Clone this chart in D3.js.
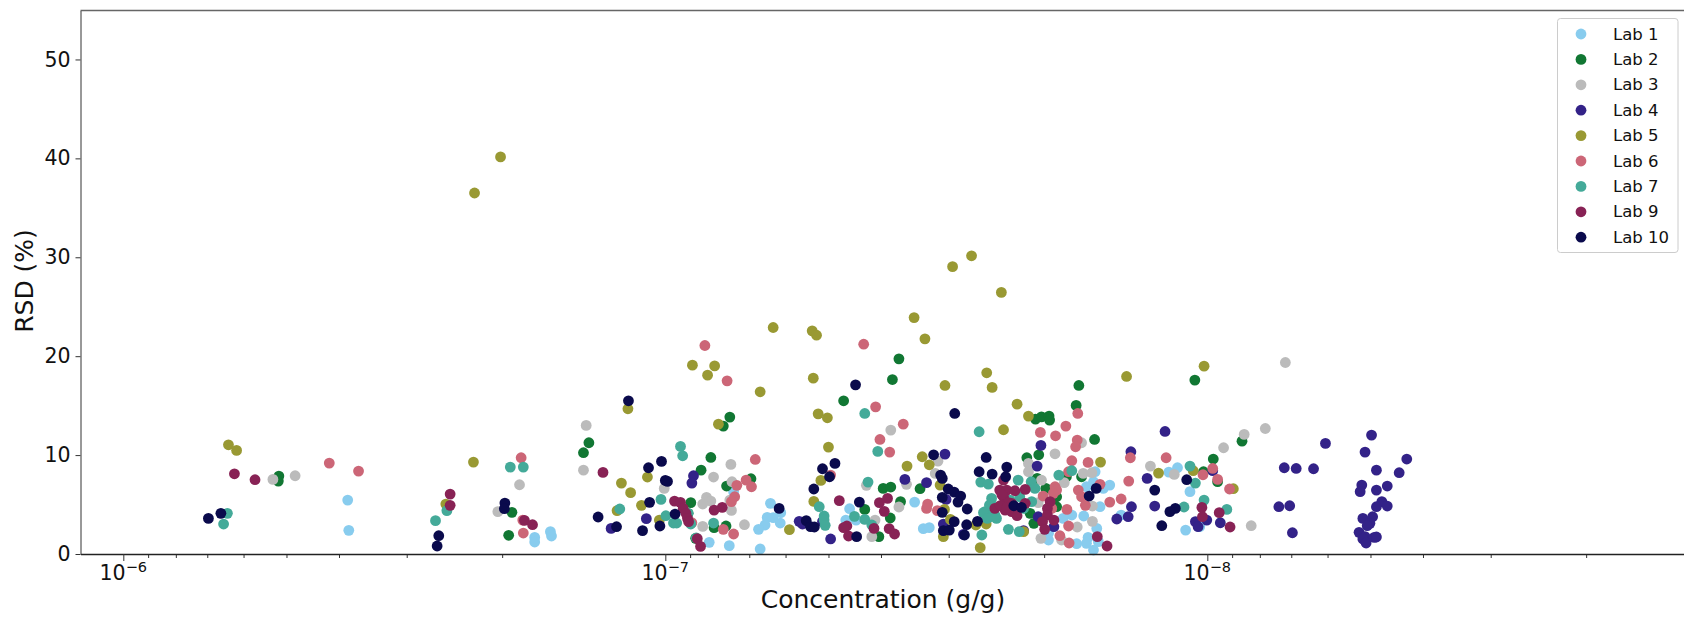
<!DOCTYPE html>
<html>
<head>
<meta charset="utf-8">
<script src="https://d3js.org/d3.v7.min.js"></script>
<style>
	html, body { margin: 0; padding: 0; background: #fff; }
	svg { display: block; }
	text { font-family: "DejaVu Sans", sans-serif; fill: #111; }
</style>
</head>
<body>
<div id="chart"></div>
<script>
	// each point is [-log10(conc in g/g), RSD %]
	var lab1 = [[6.414,5.45],[6.416,2.39],[6.759,1.68],[6.759,1.21],[6.788,2.26],[6.790,1.82],[7.194,5.12],[7.213,4.18],[7.126,6.30],[7.188,3.70],[7.199,3.67],[7.184,2.93],[7.172,2.49],[7.212,3.13],[7.081,1.18],[7.118,0.84],[7.175,0.51],[7.340,4.58],[7.352,3.43],[7.333,3.43],[7.460,5.25],[7.476,2.56],[7.487,2.66],[7.793,8.32],[7.790,7.31],[7.777,6.80],[7.808,6.63],[7.802,4.78],[7.772,3.84],[7.750,3.94],[7.734,3.60],[7.707,1.41],[7.707,2.09],[7.796,2.59],[7.780,1.68],[7.777,1.08],[7.759,1.04],[7.799,1.25],[7.790,0.40],[7.820,6.97],[7.929,8.28],[7.945,8.72],[7.968,6.30],[7.960,2.42],[7.986,2.76],[7.841,3.94]];
	var lab2 = [[6.287,7.88],[6.286,7.37],[6.717,4.21],[6.711,1.89],[7.431,19.73],[7.419,17.64],[7.329,15.49],[7.119,13.84],[7.107,12.93],[6.859,11.25],[6.849,10.24],[7.084,9.76],[7.066,8.48],[7.158,7.61],[7.113,6.87],[7.047,5.19],[7.402,6.63],[7.416,6.77],[7.470,6.60],[7.434,5.29],[7.368,4.51],[7.415,3.64],[7.112,2.83],[7.090,2.66],[7.056,1.58],[7.394,1.75],[7.042,4.11],[7.683,13.64],[7.694,13.87],[7.708,13.94],[7.709,13.54],[7.763,17.04],[7.758,15.02],[7.792,11.58],[7.667,9.73],[7.689,10.03],[7.977,17.58],[8.064,11.41],[8.011,9.60],[7.993,8.32],[8.019,7.31],[7.686,7.64],[7.702,6.63],[7.722,5.79],[7.768,7.81],[7.722,4.78],[7.673,4.11],[7.680,3.10],[7.740,7.81]];
	var lab3 = [[6.276,7.54],[6.317,7.91],[6.731,7.00],[6.691,4.28],[6.854,13.00],[6.849,8.48],[7.416,12.53],[7.503,9.39],[7.121,9.06],[7.089,7.78],[7.123,7.31],[7.498,8.15],[7.445,7.04],[7.371,6.94],[6.998,6.63],[7.076,5.72],[7.084,5.35],[7.069,5.05],[7.119,5.45],[7.122,4.41],[7.431,4.75],[7.146,2.96],[7.069,2.79],[7.387,3.43],[7.381,1.75],[7.719,10.13],[7.768,11.25],[8.068,12.09],[8.030,10.74],[7.895,8.89],[7.939,8.05],[8.081,2.86],[7.670,9.16],[7.670,8.32],[7.694,7.47],[7.736,7.21],[7.771,8.15],[7.787,8.22],[7.760,2.73],[7.788,3.30],[7.788,4.85],[7.693,1.58],[7.688,5.19],[7.731,1.41],[8.144,19.36],[8.107,12.69]];
	var lab4 = [[7.516,10.10],[7.052,7.91],[7.049,7.17],[7.442,7.54],[7.482,7.21],[6.900,2.59],[6.965,3.57],[7.247,3.30],[7.253,3.03],[7.305,1.52],[7.290,3.27],[7.513,3.03],[7.550,1.99],[7.518,5.52],[7.693,10.98],[7.686,8.89],[7.859,10.34],[7.922,12.39],[7.889,7.64],[7.860,4.78],[7.903,4.85],[7.854,3.77],[7.833,3.54],[7.978,3.27],[7.983,2.76],[7.999,3.43],[8.024,3.16],[8.010,8.42],[7.661,2.36],[7.688,3.77],[7.717,2.76],[8.218,11.18],[8.303,12.02],[8.291,10.30],[8.368,9.60],[8.142,8.72],[8.164,8.65],[8.196,8.62],[8.312,8.48],[8.354,8.22],[8.285,6.97],[8.282,6.30],[8.332,6.87],[8.312,6.46],[8.132,4.78],[8.152,4.88],[8.322,5.29],[8.312,4.78],[8.332,4.85],[8.287,3.60],[8.305,3.77],[8.300,3.10],[8.295,2.86],[8.157,2.15],[8.280,2.19],[8.291,1.75],[8.287,1.52],[8.293,1.11],[8.308,1.68],[8.312,1.72]];
	var lab5 = [[6.194,11.04],[6.209,10.47],[6.646,9.29],[6.595,5.05],[6.648,36.5],[6.696,40.15],[7.459,23.90],[7.479,21.75],[7.199,22.90],[7.271,22.56],[7.279,22.12],[7.050,19.09],[7.091,19.02],[7.078,18.08],[7.273,17.78],[7.516,17.04],[7.175,16.40],[6.931,14.68],[7.098,13.13],[7.282,14.17],[7.299,13.77],[7.301,10.81],[7.474,9.83],[7.446,8.89],[7.487,9.02],[6.967,7.78],[6.919,7.17],[6.936,6.20],[6.956,4.92],[6.911,4.38],[6.989,3.43],[7.274,5.32],[7.287,7.44],[7.229,2.46],[7.507,6.97],[7.515,4.51],[7.526,3.50],[7.513,1.75],[7.581,0.64],[7.573,2.93],[7.593,18.32],[7.603,16.84],[7.649,15.15],[7.670,13.94],[7.624,12.56],[7.851,17.95],[7.994,18.99],[7.803,9.29],[7.910,8.18],[7.974,8.42],[8.048,6.60],[7.661,2.26],[7.592,3.03],[7.530,29.05],[7.565,30.15],[7.620,26.45]];
	var lab6 = [[6.380,9.19],[6.434,8.38],[6.734,9.73],[6.737,3.43],[6.738,2.12],[7.073,21.08],[7.114,17.51],[7.366,21.21],[7.388,14.88],[7.439,13.13],[7.396,11.58],[7.414,10.30],[7.166,9.56],[7.305,7.98],[7.149,7.47],[7.132,6.94],[7.159,6.80],[7.128,5.79],[7.122,5.29],[7.484,5.05],[7.482,4.61],[7.502,4.38],[7.049,3.16],[7.107,2.49],[7.126,2.02],[7.692,12.29],[7.720,11.95],[7.739,12.93],[7.761,14.21],[7.760,11.52],[7.757,10.84],[7.750,9.43],[7.780,9.26],[7.858,9.73],[7.924,9.73],[7.855,7.37],[7.841,5.56],[7.820,5.25],[7.802,7.04],[7.762,6.46],[7.768,5.79],[7.775,4.92],[7.741,4.51],[7.744,2.83],[7.728,1.85],[7.745,1.11],[8.010,8.65],[7.992,8.01],[8.019,7.54],[8.041,6.57],[7.744,8.32],[7.719,6.80],[7.722,6.46],[7.697,5.86],[7.716,6.13],[7.713,4.61]];
	var lab7 = [[6.192,4.11],[6.185,3.03],[6.576,3.37],[6.597,4.38],[6.714,8.79],[6.738,8.79],[7.028,10.88],[7.032,9.93],[7.368,14.21],[7.392,10.37],[7.374,7.27],[6.992,5.52],[6.916,4.55],[7.001,3.87],[7.015,3.13],[7.021,3.13],[7.047,3.03],[7.089,3.13],[7.057,1.62],[7.284,4.78],[7.293,3.84],[7.293,3.43],[7.295,2.90],[7.349,3.80],[7.368,3.50],[7.381,2.93],[7.579,12.36],[7.582,7.27],[7.584,1.92],[7.042,4.11],[7.726,7.98],[7.750,8.42],[7.968,8.89],[7.994,5.45],[7.978,7.17],[7.957,4.75],[8.036,4.51],[7.633,2.49],[7.653,2.26],[7.651,7.47],[7.675,7.31],[7.682,6.63],[7.596,7.07],[7.602,5.62],[7.605,4.78],[7.590,4.28],[7.599,3.77],[7.611,3.60],[7.654,5.79],[7.676,5.29],[7.636,5.45],[7.661,4.61],[7.598,4.95],[7.608,3.94],[7.587,4.18],[7.594,3.60]];
	var lab9 = [[6.205,8.11],[6.243,7.51],[6.603,6.06],[6.603,4.92],[6.740,3.40],[6.755,2.96],[6.885,8.25],[7.321,5.39],[7.017,5.35],[7.028,5.22],[7.033,4.61],[7.038,4.11],[7.041,3.60],[7.043,3.27],[7.105,4.71],[7.090,4.44],[7.059,1.55],[7.065,0.77],[7.395,5.19],[7.410,5.62],[7.404,4.31],[7.335,2.83],[7.329,2.66],[7.338,1.82],[7.385,2.59],[7.413,2.56],[7.423,2.02],[7.624,7.47],[7.617,6.46],[7.630,6.46],[7.645,6.40],[7.664,6.53],[7.624,5.79],[7.639,5.12],[7.664,5.12],[7.608,4.61],[7.627,4.44],[7.639,4.28],[7.649,3.87],[7.710,5.29],[7.705,4.61],[7.705,3.94],[7.696,3.27],[7.717,3.43],[7.700,2.49],[7.797,1.75],[7.815,0.81],[7.990,4.71],[7.991,3.77],[8.022,4.18],[8.042,2.73],[7.621,6.00],[7.633,5.20],[7.618,4.90],[7.630,4.70]];
	var lab10 = [[6.157,3.60],[6.180,4.11],[6.582,1.85],[6.579,0.81],[6.704,5.15],[6.703,4.58],[6.932,15.49],[7.351,17.10],[7.534,14.21],[7.313,9.16],[7.290,8.62],[7.303,7.81],[7.495,10.03],[6.993,9.36],[6.969,8.72],[7.000,7.44],[7.004,7.34],[6.971,5.22],[7.508,7.98],[7.511,7.64],[7.274,6.57],[7.358,5.25],[7.522,6.57],[7.533,6.26],[7.511,5.72],[7.545,5.86],[7.540,5.25],[7.557,4.55],[7.511,4.21],[7.018,4.04],[6.876,3.74],[6.910,2.76],[6.958,2.36],[6.990,2.83],[7.210,4.61],[7.260,3.37],[7.268,2.76],[7.275,2.73],[7.533,3.27],[7.556,2.96],[7.576,3.30],[7.513,2.36],[7.524,2.42],[7.552,1.92],[7.353,1.75],[7.579,8.32],[7.592,9.76],[7.603,8.08],[7.630,8.79],[7.628,7.81],[7.643,4.88],[7.657,4.71],[7.795,6.63],[7.782,5.86],[7.903,6.46],[7.962,7.51],[7.941,4.61],[7.931,4.28],[7.916,2.86]];

	var labNames = ["Lab 1","Lab 2","Lab 3","Lab 4","Lab 5","Lab 6","Lab 7","Lab 9","Lab 10"];
	var labColors = ["#88CCEE","#117733","#BBBBBB","#332288","#999933","#CC6677","#44AA99","#882255","#0A0A4C"];
	var labData = [lab1,lab2,lab3,lab4,lab5,lab6,lab7,lab9,lab10];
	var yTicks = [0,10,20,30,40,50];
	var xMajor = [6,7,8]; // exponents that get a label

	var width = 1684, height = 618;
	var left = 80.5, top_ = 10.5, bottom = 554;

	var svg = d3.select("#chart").append("svg")
		.attr("width", width)
		.attr("height", height);

	// x axis runs backwards, big concentrations on the left
	var x = d3.scaleLog()
		.domain([Math.pow(10,-5.921), Math.pow(10,-8.8795)])
		.range([left, width]);
	var y = d3.scaleLinear()
		.domain([0,54.95])
		.range([bottom, top_]);

	// points, one group per lab so later labs sit on top
	for (var i=0; i<labData.length; i++) {
		svg.append("g")
			.attr("fill", labColors[i])
			.selectAll("circle")
			.data(labData[i])
			.enter().append("circle")
			.attr("cx", function(d) { return x(Math.pow(10,-d[0])); })
			.attr("cy", function(d) { return y(d[1]); })
			.attr("r", 5.4);
	}

	// minor ticks first
	var minor = [];
	for (var k=6; k<=9; k++) {
		for (var m=2; m<=9; m++) {
			var v = m*Math.pow(10,-k);
			if (x(v) > left && x(v) < width) minor.push(v);
		}
	}
	var xAxisMinor = d3.axisBottom(x).tickValues(minor).tickSize(4).tickSizeOuter(0).tickFormat("");
	svg.append("g")
		.attr("transform", "translate(0," + bottom + ")")
		.call(xAxisMinor)
		.call(function(g) { g.select(".domain").remove(); })
		.selectAll("line").attr("stroke", "#333").attr("stroke-width", 1);

	var xAxis = d3.axisBottom(x)
		.tickValues(xMajor.map(function(e) { return Math.pow(10,-e); }))
		.tickSize(7)
		.tickSizeOuter(0)
		.tickFormat("");
	var xg = svg.append("g")
		.attr("transform", "translate(0," + bottom + ")")
		.call(xAxis);
	xg.select(".domain").attr("stroke", "#222").attr("stroke-width", 1.4);
	xg.selectAll("line").attr("stroke", "#333").attr("stroke-width", 1);

	// 10^-k labels, exponent in a tspan
	var xLabels = svg.append("g").selectAll("text")
		.data(xMajor)
		.enter().append("text")
		.attr("x", function(e) { return x(Math.pow(10,-e)); })
		.attr("y", 580)
		.attr("text-anchor", "middle")
		.style("font-size", "20.5px");
	xLabels.append("tspan").text("10");
	xLabels.append("tspan")
		.attr("dy", -8)
		.style("font-size", "14.5px")
		.text(function(e) { return "\u2212" + e; });

	var yAxis = d3.axisLeft(y).tickValues(yTicks).tickSize(5).tickSizeOuter(0).tickPadding(5);
	var yg = svg.append("g")
		.attr("transform", "translate(" + left + ",0)")
		.call(yAxis);
	yg.select(".domain").attr("stroke", "#333").attr("stroke-width", 1);
	yg.selectAll("line").attr("stroke", "#333").attr("stroke-width", 1);
	yg.selectAll("text")
		.style("font-family", '"DejaVu Sans", sans-serif')
		.style("font-size", "20.5px")
		.attr("fill", "#111");

	// top spine is greyer and thicker in the original
	svg.append("line")
		.attr("x1", left).attr("x2", width)
		.attr("y1", top_).attr("y2", top_)
		.attr("stroke", "#666")
		.attr("stroke-width", 1.6);

	svg.append("text")
		.attr("x", 883)
		.attr("y", 608)
		.attr("text-anchor", "middle")
		.style("font-size", "25px")
		.text("Concentration (g/g)");

	svg.append("text")
		.attr("transform", "translate(33,281) rotate(-90)")
		.attr("text-anchor", "middle")
		.style("font-size", "25px")
		.text("RSD (%)");

	// legend
	var legend = svg.append("g");
	legend.append("rect")
		.attr("x", 1557.5).attr("y", 18.5)
		.attr("width", 120.5).attr("height", 234)
		.attr("rx", 3)
		.attr("fill", "#fff")
		.attr("stroke", "#ccc");
	var rows = legend.selectAll("g")
		.data(labNames)
		.enter().append("g")
		.attr("transform", function(d,i) { return "translate(0," + (34 + i*25.4) + ")"; });
	rows.append("circle")
		.attr("cx", 1581)
		.attr("r", 5.4)
		.attr("fill", function(d,i) { return labColors[i]; });
	rows.append("text")
		.attr("x", 1613)
		.attr("y", 5.5)
		.style("font-size", "16.5px")
		.text(function(d) { return d; });
</script>
</body>
</html>
